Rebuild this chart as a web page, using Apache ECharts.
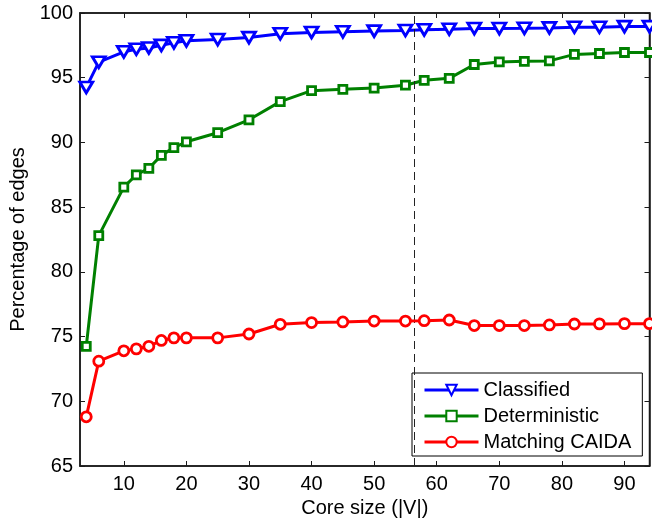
<!DOCTYPE html>
<html>
<head>
<meta charset="utf-8">
<script src="https://cdn.jsdelivr.net/npm/echarts@6/dist/echarts.min.js"></script>
<style>
html,body{margin:0;padding:0;background:#fff;}
#chart{width:652px;height:525px;}
</style>
</head>
<body>
<div id="chart"></div>
<script>
const coreSizes = [4,6,10,12,14,16,18,20,25,30,35,40,45,50,55,58,62,66,70,74,78,82,86,90,94];
const classified = [94.25,96.2,97.0,97.2,97.3,97.5,97.7,97.85,97.95,98.1,98.4,98.5,98.55,98.6,98.65,98.7,98.75,98.8,98.8,98.82,98.85,98.9,98.9,98.95,98.95];
const deterministic = [74.25,82.8,86.55,87.5,88.0,89.0,89.6,90.05,90.75,91.75,93.15,94.0,94.1,94.2,94.42,94.8,94.95,96.02,96.22,96.27,96.3,96.8,96.87,96.95,96.95];
const matchingCaida = [68.8,73.1,73.9,74.05,74.25,74.7,74.9,74.9,74.9,75.2,75.95,76.08,76.13,76.2,76.2,76.23,76.28,75.85,75.85,75.85,75.9,75.97,75.98,76.0,76.0];
const xTicks = [10,20,30,40,50,60,70,80,90];
const xMin = 3, xMax = 94;
const yMin = 65, yMax = 100, yStep = 5;
const cutoffX = 56.4;
const seriesNames = ['Classified','Deterministic','Matching CAIDA'];

const font = 'Liberation Sans, Arial, Helvetica, sans-serif';
const axisColor = '#1a1a1a';

const chart = echarts.init(document.getElementById('chart'), null, {renderer:'canvas'});
function pairs(ys){ return coreSizes.map((x,i)=>[x, ys[i]]); }

const option = {
  animation:false,
  backgroundColor:'#fff',
  textStyle:{fontFamily:font},
  grid:{left:80, right:2.5, top:13, bottom:59, containLabel:false, outerBoundsMode:'none',
        show:true, borderColor:axisColor, borderWidth:1.5, backgroundColor:'transparent'},
  legend:{
    orient:'vertical', left:412, top:373,
    data:seriesNames,
    backgroundColor:'#fff', borderColor:'#000', borderWidth:1,
    padding:[7,11,4,11], itemGap:6, itemWidth:54, itemHeight:13,
    lineStyle:{width:3},
    textStyle:{fontFamily:font, fontSize:20, color:'#000', lineHeight:20},
    borderRadius:0
  },
  xAxis:[{
    type:'value', min:xMin, max:xMax, position:'bottom',
    name:'Core size (|V|)', nameLocation:'middle', nameGap:31,
    nameTextStyle:{fontFamily:font, fontSize:20, color:'#000'},
    axisLine:{show:true, onZero:false, lineStyle:{color:axisColor, width:1.5}},
    axisTick:{show:true, inside:true, length:5, customValues:xTicks, lineStyle:{color:axisColor, width:1}},
    axisLabel:{show:true, customValues:xTicks, margin:8, fontFamily:font, fontSize:20, color:'#000'},
    splitLine:{show:false}
  },{
    type:'value', min:xMin, max:xMax, position:'top',
    axisLine:{show:true, onZero:false, lineStyle:{color:axisColor, width:1.5}},
    axisTick:{show:true, inside:true, length:5, customValues:xTicks, lineStyle:{color:axisColor, width:1}},
    axisLabel:{show:false}, splitLine:{show:false}
  }],
  yAxis:[{
    type:'value', min:yMin, max:yMax, interval:yStep, position:'left',
    name:'Percentage of edges', nameLocation:'middle', nameGap:46,
    nameTextStyle:{fontFamily:font, fontSize:20, color:'#000'},
    axisLine:{show:true, onZero:false, lineStyle:{color:axisColor, width:1.5}},
    axisTick:{show:true, inside:true, length:5, lineStyle:{color:axisColor, width:1}},
    axisLabel:{show:true, margin:7, fontFamily:font, fontSize:20, color:'#000'},
    splitLine:{show:false}
  },{
    type:'value', min:yMin, max:yMax, interval:yStep, position:'right',
    axisLine:{show:true, onZero:false, lineStyle:{color:axisColor, width:1.5}},
    axisTick:{show:true, inside:true, length:5, lineStyle:{color:axisColor, width:1}},
    axisLabel:{show:false}, splitLine:{show:false}
  }],
  series:[
    {
      name:seriesNames[0], type:'line', data:pairs(classified),
      symbol:'triangle', symbolRotate:180, symbolSize:[13,11], showAllSymbol:true,
      lineStyle:{color:'#0000ff', width:3},
      itemStyle:{color:'#fff', borderColor:'#0000ff', borderWidth:2.8},
      z:3,
      markLine:{
        silent:true, symbol:['none','none'], label:{show:false},
        lineStyle:{color:'#222', type:[8,5], width:1},
        data:[{xAxis:cutoffX}], animation:false
      }
    },
    {
      name:seriesNames[1], type:'line', data:pairs(deterministic),
      symbol:'rect', symbolSize:8, showAllSymbol:true,
      lineStyle:{color:'#008000', width:3},
      itemStyle:{color:'#fff', borderColor:'#008000', borderWidth:2.8},
      z:4
    },
    {
      name:seriesNames[2], type:'line', data:pairs(matchingCaida),
      symbol:'circle', symbolSize:10, showAllSymbol:true,
      lineStyle:{color:'#ff0000', width:3},
      itemStyle:{color:'#fff', borderColor:'#ff0000', borderWidth:2.8},
      z:5
    }
  ]
};
chart.setOption(option);
</script>
</body>
</html>
